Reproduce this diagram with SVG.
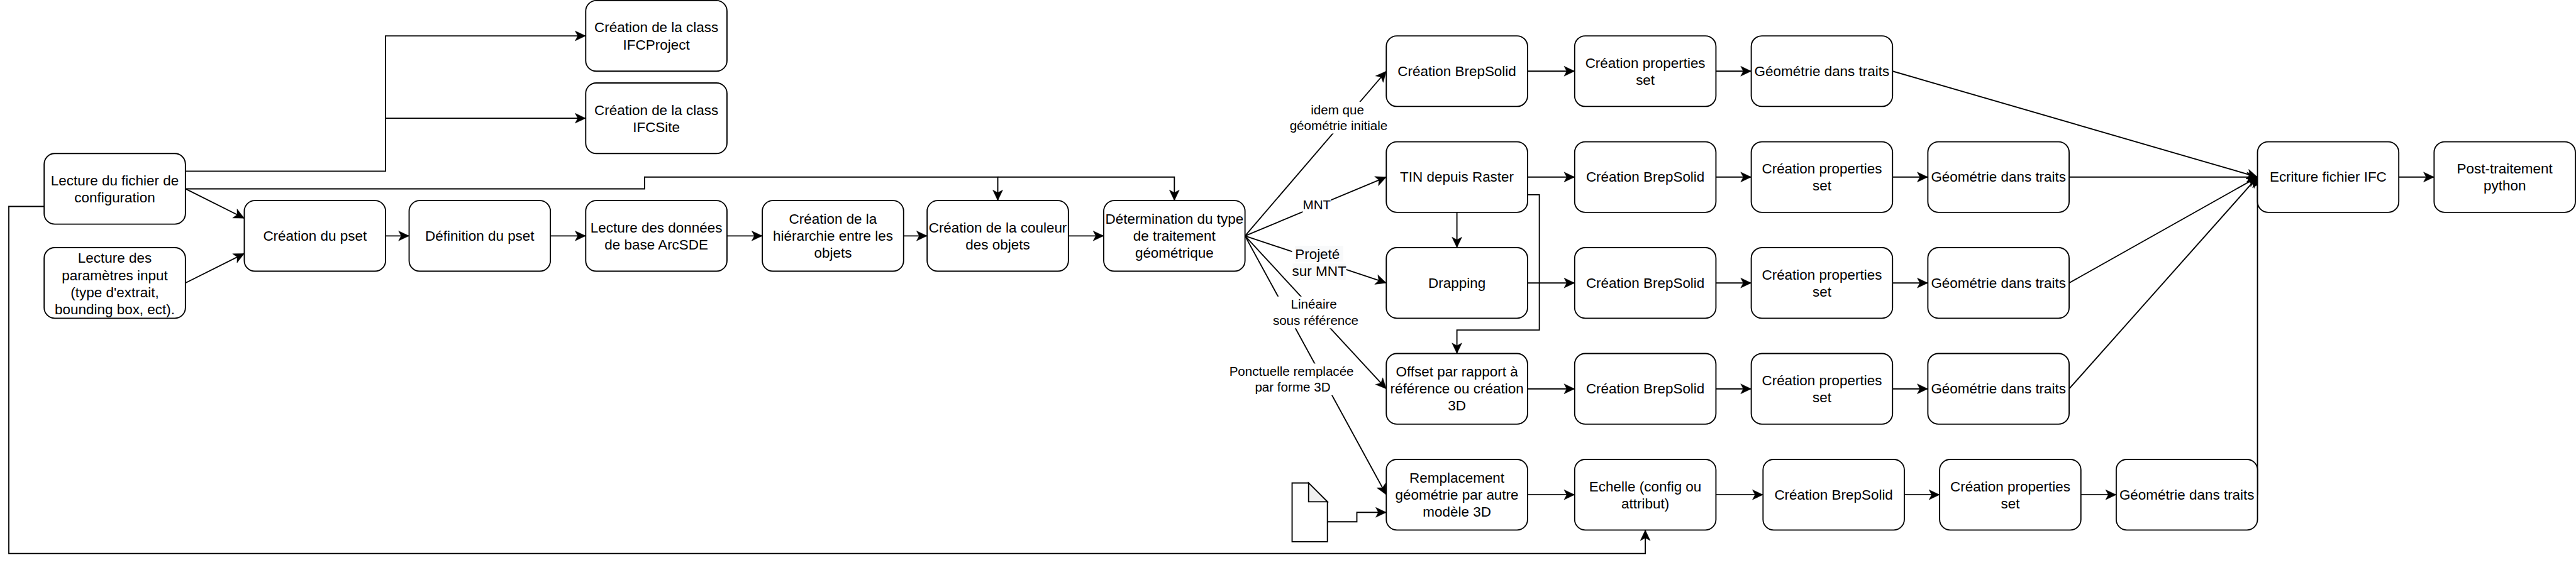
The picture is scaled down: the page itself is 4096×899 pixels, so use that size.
<svg xmlns="http://www.w3.org/2000/svg" width="4096" height="899" viewBox="0 0 4096 899">
<style>
.n{fill:#fff;stroke:#000;stroke-width:2}
.c{fill:none;stroke:#000;stroke-width:2;marker-end:url(#a)}
text{font-family:"Liberation Sans",Arial,sans-serif;font-size:24px;text-anchor:middle;fill:#000}
.s{font-size:22px}
.bg{fill:#fff}
.bp{fill:#f8f9fa}
</style>
<defs>
<marker id="a" markerUnits="userSpaceOnUse" markerWidth="20" markerHeight="20" refX="18" refY="9" orient="auto" overflow="visible"><path d="M0,0.5 L18,9 L0,17.5 L4.5,9 Z" fill="#000" stroke="#000" stroke-width="0.5"/></marker>
</defs>
<rect width="4096" height="899" fill="#fff"/>
<g transform="scale(0.936)">
<g id="connectors">
<path class="c" d="M315,291H655V61H995"/>
<path class="c" d="M655,201H995"/>
<path class="c" d="M315,321H1095V301H1695V341"/>
<path class="c" d="M1695,301H1995V341"/>
<path class="c" d="M315,321L415,371"/>
<path class="c" d="M315,481L415,431"/>
<path class="c" d="M75,351H15V941H2795V901"/>
<path class="c" d="M655,401H695"/>
<path class="c" d="M935,401H995"/>
<path class="c" d="M1235,401H1295"/>
<path class="c" d="M1535,401H1575"/>
<path class="c" d="M1815,401H1875"/>
<path class="c" d="M2115,401L2355,121"/>
<path class="c" d="M2115,401L2355,301"/>
<path class="c" d="M2115,401L2355,481"/>
<path class="c" d="M2115,401L2355,661"/>
<path class="c" d="M2115,401L2355,841"/>
<path class="c" d="M2475,361V421"/>
<path class="c" d="M2595,331H2615V561H2475V601"/>
<path class="c" d="M2595,121H2675"/>
<path class="c" d="M2915,121H2975"/>
<path class="c" d="M3215,121L3835,301"/>
<path class="c" d="M2595,301H2675"/>
<path class="c" d="M2915,301H2975"/>
<path class="c" d="M3215,301H3275"/>
<path class="c" d="M3515,301H3835"/>
<path class="c" d="M2595,481H2675"/>
<path class="c" d="M2915,481H2975"/>
<path class="c" d="M3215,481H3275"/>
<path class="c" d="M3515,481L3835,301"/>
<path class="c" d="M2595,661H2675"/>
<path class="c" d="M2915,661H2975"/>
<path class="c" d="M3215,661H3275"/>
<path class="c" d="M3515,661L3835,301"/>
<path class="c" d="M2595,841H2675"/>
<path class="c" d="M2915,841H2995"/>
<path class="c" d="M3235,841H3295"/>
<path class="c" d="M3535,841H3595"/>
<path class="c" d="M3835,841V301"/>
<path class="c" d="M4075,301H4135"/>
<path class="c" d="M2255,887H2305V871H2355"/>
<rect class="bg" x="2191" y="173" width="167" height="54"/>
<text class="s" x="2272" y="194">idem que</text><text class="s" x="2274" y="221">géométrie initiale</text>
<rect class="bg" x="2213" y="335" width="48" height="27"/>
<text class="s" x="2237" y="356">MNT</text>
<rect class="bg" x="2195" y="418" width="92" height="58"/>
<rect class="bp" x="2200" y="418" width="82" height="27"/><rect class="bp" x="2196" y="448" width="90" height="28"/>
<text x="2238" y="440">Projeté</text><text x="2241" y="469">sur MNT</text>
<rect class="bg" x="2162" y="504" width="145" height="54"/>
<text class="s" x="2232" y="525">Linéaire</text><text class="s" x="2235" y="552">sous référence</text>
<rect class="bg" x="2088" y="618" width="212" height="54"/>
<text class="s" x="2194" y="639">Ponctuelle remplacée</text><text class="s" x="2196" y="666">par forme 3D</text>
</g>
<g id="n1"><rect class="n" x="995" y="1" width="240" height="120" rx="18"/><text x="1115" y="55">Création de la class</text><text x="1115" y="84">IFCProject</text></g>
<g id="n2"><rect class="n" x="995" y="141" width="240" height="120" rx="18"/><text x="1115" y="195">Création de la class</text><text x="1115" y="224">IFCSite</text></g>
<g id="n3"><rect class="n" x="75" y="261" width="240" height="120" rx="18"/><text x="195" y="315">Lecture du fichier de</text><text x="195" y="344">configuration</text></g>
<g id="n4"><rect class="n" x="75" y="421" width="240" height="120" rx="18"/><text x="195" y="447">Lecture des</text><text x="195" y="476">paramètres input</text><text x="195" y="505">(type d'extrait,</text><text x="195" y="534">bounding box, ect).</text></g>
<g id="n5"><rect class="n" x="415" y="341" width="240" height="120" rx="18"/><text x="535" y="409">Création du pset</text></g>
<g id="n6"><rect class="n" x="695" y="341" width="240" height="120" rx="18"/><text x="815" y="409">Définition du pset</text></g>
<g id="n7"><rect class="n" x="995" y="341" width="240" height="120" rx="18"/><text x="1115" y="395">Lecture des données</text><text x="1115" y="424">de base ArcSDE</text></g>
<g id="n8"><rect class="n" x="1295" y="341" width="240" height="120" rx="18"/><text x="1415" y="380">Création de la</text><text x="1415" y="409">hiérarchie entre les</text><text x="1415" y="438">objets</text></g>
<g id="n9"><rect class="n" x="1575" y="341" width="240" height="120" rx="18"/><text x="1695" y="395">Création de la couleur</text><text x="1695" y="424">des objets</text></g>
<g id="n10"><rect class="n" x="1875" y="341" width="240" height="120" rx="18"/><text x="1995" y="380">Détermination du type</text><text x="1995" y="409">de traitement</text><text x="1995" y="438">géométrique</text></g>
<g id="r1a"><rect class="n" x="2355" y="61" width="240" height="120" rx="18"/><text x="2475" y="129">Création BrepSolid</text></g>
<g id="r1b"><rect class="n" x="2675" y="61" width="240" height="120" rx="18"/><text x="2795" y="115">Création properties</text><text x="2795" y="144">set</text></g>
<g id="r1c"><rect class="n" x="2975" y="61" width="240" height="120" rx="18"/><text x="3095" y="129">Géométrie dans traits</text></g>
<g id="r2a"><rect class="n" x="2355" y="241" width="240" height="120" rx="18"/><text x="2475" y="309">TIN depuis Raster</text></g>
<g id="r2b"><rect class="n" x="2675" y="241" width="240" height="120" rx="18"/><text x="2795" y="309">Création BrepSolid</text></g>
<g id="r2c"><rect class="n" x="2975" y="241" width="240" height="120" rx="18"/><text x="3095" y="295">Création properties</text><text x="3095" y="324">set</text></g>
<g id="r2d"><rect class="n" x="3275" y="241" width="240" height="120" rx="18"/><text x="3395" y="309">Géométrie dans traits</text></g>
<g id="r3a"><rect class="n" x="2355" y="421" width="240" height="120" rx="18"/><text x="2475" y="489">Drapping</text></g>
<g id="r3b"><rect class="n" x="2675" y="421" width="240" height="120" rx="18"/><text x="2795" y="489">Création BrepSolid</text></g>
<g id="r3c"><rect class="n" x="2975" y="421" width="240" height="120" rx="18"/><text x="3095" y="475">Création properties</text><text x="3095" y="504">set</text></g>
<g id="r3d"><rect class="n" x="3275" y="421" width="240" height="120" rx="18"/><text x="3395" y="489">Géométrie dans traits</text></g>
<g id="r4a"><rect class="n" x="2355" y="601" width="240" height="120" rx="18"/><text x="2475" y="640">Offset par rapport à</text><text x="2475" y="669">référence ou création</text><text x="2475" y="698">3D</text></g>
<g id="r4b"><rect class="n" x="2675" y="601" width="240" height="120" rx="18"/><text x="2795" y="669">Création BrepSolid</text></g>
<g id="r4c"><rect class="n" x="2975" y="601" width="240" height="120" rx="18"/><text x="3095" y="655">Création properties</text><text x="3095" y="684">set</text></g>
<g id="r4d"><rect class="n" x="3275" y="601" width="240" height="120" rx="18"/><text x="3395" y="669">Géométrie dans traits</text></g>
<g id="r5a"><rect class="n" x="2355" y="781" width="240" height="120" rx="18"/><text x="2475" y="820">Remplacement</text><text x="2475" y="849">géométrie par autre</text><text x="2475" y="878">modèle 3D</text></g>
<g id="r5b"><rect class="n" x="2675" y="781" width="240" height="120" rx="18"/><text x="2795" y="835">Echelle (config ou</text><text x="2795" y="864">attribut)</text></g>
<g id="r5c"><rect class="n" x="2995" y="781" width="240" height="120" rx="18"/><text x="3115" y="849">Création BrepSolid</text></g>
<g id="r5d"><rect class="n" x="3295" y="781" width="240" height="120" rx="18"/><text x="3415" y="835">Création properties</text><text x="3415" y="864">set</text></g>
<g id="r5e"><rect class="n" x="3595" y="781" width="240" height="120" rx="18"/><text x="3715" y="849">Géométrie dans traits</text></g>
<g id="ifc"><rect class="n" x="3835" y="241" width="240" height="120" rx="18"/><text x="3955" y="309">Ecriture fichier IFC</text></g>
<g id="post"><rect class="n" x="4135" y="241" width="240" height="120" rx="18"/><text x="4255" y="295">Post-traitement</text><text x="4255" y="324">python</text></g>
<g id="file"><path class="n" d="M2195,821H2223L2255,853V921H2195Z"/><path d="M2223,821V853H2255Z" fill="#f0f0f0" stroke="#000" stroke-width="2"/></g>
</g>
</svg>
